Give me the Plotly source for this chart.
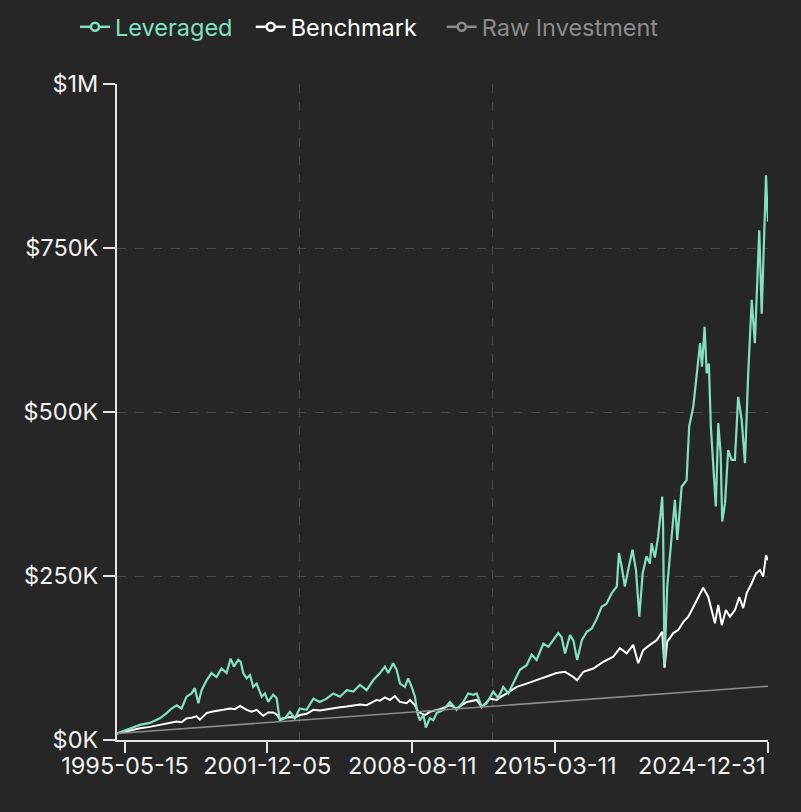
import plotly.graph_objects as go

# ---------------- data (values in $K) ----------------
lev_dates = [
    "1995-01-01", "1995-08-06", "1996-01-22", "1996-07-07", "1996-12-23", "1997-04-15", "1997-07-07",
    "1997-10-01", "1997-12-23", "1998-03-16", "1998-06-08", "1998-08-03", "1998-10-01", "1998-11-25",
    "1999-02-17", "1999-05-10", "1999-08-03", "1999-10-26", "2000-01-19", "2000-03-27", "2000-05-21",
    "2000-08-03", "2000-09-13", "2000-10-26", "2000-12-23", "2001-02-17", "2001-04-11", "2001-06-08",
    "2001-09-02", "2001-10-26", "2001-12-20", "2002-03-13", "2002-05-10", "2002-07-04", "2002-09-27",
    "2002-12-20", "2003-03-13", "2003-06-05", "2003-09-27", "2004-01-19", "2004-05-07", "2004-08-29",
    "2004-12-20", "2005-04-11", "2005-08-03", "2005-11-21", "2006-03-13", "2006-07-04", "2006-10-22",
    "2007-02-14", "2007-05-07", "2007-07-01", "2007-09-24", "2007-11-21", "2008-01-15", "2008-04-08",
    "2008-06-02", "2008-07-30", "2008-09-24", "2008-11-03", "2008-12-16", "2009-02-14", "2009-03-27",
    "2009-06-02", "2009-07-30", "2009-09-24", "2010-01-15", "2010-05-07", "2010-08-25", "2010-12-16",
    "2011-03-09", "2011-06-02", "2011-07-30", "2011-10-22", "2012-01-15", "2012-05-03", "2012-07-26",
    "2012-10-19", "2013-01-12", "2013-04-04", "2013-07-26", "2013-11-17", "2014-02-10", "2014-05-03",
    "2014-08-25", "2014-11-17", "2015-02-10", "2015-05-03", "2015-06-27", "2015-08-25", "2015-11-17",
    "2016-01-12", "2016-03-16", "2016-06-02", "2016-08-25", "2016-11-17", "2017-02-10", "2017-05-03",
    "2017-07-26", "2017-10-19", "2018-01-12", "2018-02-17", "2018-04-04", "2018-05-28", "2018-07-22",
    "2018-10-04", "2018-12-01", "2019-01-26", "2019-03-23", "2019-05-28", "2019-07-22", "2019-08-21",
    "2019-10-15", "2019-12-09", "2020-01-25", "2020-02-15", "2020-03-01", "2020-03-25", "2020-05-10",
    "2020-07-22", "2020-09-16", "2020-10-26", "2021-01-08", "2021-04-01", "2021-05-14", "2021-07-22",
    "2021-09-27", "2021-11-14", "2021-12-16", "2022-01-29", "2022-03-05", "2022-04-11", "2022-05-14",
    "2022-06-23", "2022-08-06", "2022-09-16", "2022-10-26", "2022-11-21", "2023-01-08", "2023-03-02",
    "2023-04-30", "2023-06-23", "2023-08-17", "2023-10-15", "2023-12-09", "2024-02-02", "2024-04-01",
    "2024-05-24", "2024-08-06", "2024-09-16", "2024-10-26", "2024-11-28", "2024-12-20", "2024-12-31",
]
lev_values = [
    10, 18, 23, 26, 33, 41, 48,
    53, 48, 66, 71, 79, 56, 76,
    91, 102, 96, 109, 102, 124, 112,
    122, 119, 102, 94, 99, 81, 86,
    66, 71, 58, 69, 64, 30, 33,
    43, 33, 48, 46, 63, 58, 63,
    71, 66, 76, 74, 84, 76, 91,
    102, 112, 102, 117, 107, 86, 81,
    94, 81, 66, 41, 30, 38, 19,
    33, 30, 41, 46, 58, 46, 58,
    71, 69, 71, 51, 56, 74, 64,
    81, 71, 86, 107, 114, 130, 122,
    147, 142, 152, 163, 157, 132, 160,
    152, 122, 152, 165, 170, 185, 203,
    208, 224, 234, 285, 264, 234, 259,
    290, 259, 188, 254, 280, 269, 300,
    278, 310, 350, 371, 330, 115, 234,
    305, 366, 305, 386, 396, 478, 508,
    559, 605, 569, 630, 559, 574, 478,
    417, 356, 483, 437, 333, 361, 442,
    427, 427, 523, 488, 422, 559, 671,
    605, 777, 650, 782, 861, 808, 790,
]

bench_dates = [
    "1995-01-01", "1995-02-20", "1995-08-06", "1996-01-22", "1996-07-07", "1996-12-23", "1997-05-07",
    "1997-10-01", "1997-12-23", "1998-03-16", "1998-06-08", "1998-09-02", "1998-10-26", "1999-02-17",
    "1999-05-10", "1999-08-03", "1999-11-25", "2000-03-16", "2000-06-08", "2000-09-02", "2000-12-23",
    "2001-03-16", "2001-06-08", "2001-09-27", "2001-12-20", "2002-03-13", "2002-05-10", "2002-07-04",
    "2002-09-27", "2002-12-20", "2003-03-13", "2003-06-05", "2003-09-27", "2004-01-19", "2004-05-07",
    "2004-08-29", "2004-12-20", "2005-04-11", "2005-08-03", "2005-11-21", "2006-03-13", "2006-07-04",
    "2006-10-22", "2006-12-20", "2007-02-14", "2007-05-07", "2007-07-30", "2007-10-22", "2008-01-15",
    "2008-05-07", "2008-07-01", "2008-09-24", "2008-11-17", "2009-01-15", "2009-03-10", "2009-06-02",
    "2009-11-17", "2010-05-07", "2010-08-25", "2011-02-14", "2011-07-30", "2011-10-22", "2012-03-09",
    "2012-07-01", "2012-08-25", "2012-12-16", "2013-06-02", "2013-11-17", "2014-05-03", "2014-10-19",
    "2015-04-04", "2015-08-25", "2016-01-12", "2016-03-16", "2016-06-27", "2016-12-13", "2017-05-28",
    "2017-11-14", "2018-03-05", "2018-06-27", "2018-10-15", "2019-01-08", "2019-04-01", "2019-07-22",
    "2019-11-14", "2020-02-15", "2020-03-25", "2020-05-10", "2020-08-21", "2020-11-14", "2021-02-06",
    "2021-04-30", "2021-07-22", "2021-10-15", "2021-12-09", "2022-01-05", "2022-04-01", "2022-05-28",
    "2022-07-22", "2022-09-16", "2022-11-14", "2023-01-22", "2023-04-01", "2023-06-23", "2023-09-05",
    "2023-11-10", "2024-01-08", "2024-04-01", "2024-06-12", "2024-08-17", "2024-10-11", "2024-11-28",
    "2024-12-31",
]
bench_values = [
    10, 11, 15, 18, 20, 23, 25,
    28, 27, 33, 34, 36, 31, 41,
    43, 44, 46, 48, 47, 52, 46,
    43, 46, 37, 42, 42, 39, 32,
    34, 35, 34, 38, 40, 46, 45,
    47, 49, 50, 51, 52, 54, 53,
    58, 61, 60, 65, 61, 67, 58,
    56, 61, 53, 43, 41, 38, 43,
    47, 53, 48, 58, 61, 50, 63,
    61, 65, 71, 81, 86, 91, 96,
    102, 104, 96, 91, 104, 109, 119,
    127, 140, 132, 145, 117, 137, 145,
    152, 165, 110, 150, 163, 168, 180,
    188, 203, 218, 229, 232, 218, 198,
    178, 206, 175, 198, 188, 198, 218,
    201, 224, 239, 254, 259, 249, 282,
    274,
]

raw_dates = [
    "1995-01-01", "1996-01-01", "1997-01-01", "1998-01-01", "1999-01-01", "2000-01-01",
    "2001-01-01", "2002-01-01", "2003-01-01", "2004-01-01", "2005-01-01", "2006-01-01",
    "2007-01-01", "2008-01-01", "2009-01-01", "2010-01-01", "2011-01-01", "2012-01-01",
    "2013-01-01", "2014-01-01", "2015-01-01", "2016-01-01", "2017-01-01", "2018-01-01",
    "2019-01-01", "2020-01-01", "2021-01-01", "2022-01-01", "2023-01-01", "2024-01-01",
    "2024-12-31",
]
raw_values = [
    10.0, 12.4, 14.8, 17.2, 19.6, 22.0,
    24.4, 26.8, 29.2, 31.6, 34.0, 36.4,
    38.8, 41.2, 43.6, 46.0, 48.4, 50.8,
    53.2, 55.6, 58.0, 60.4, 62.8, 65.2,
    67.6, 70.0, 72.4, 74.8, 77.2, 79.6,
    82.0,
]

series_names = ["Leveraged", "Benchmark", "Raw Investment"]
x_tick_dates = ["1995-05-15", "2001-12-05", "2008-08-11", "2015-03-11", "2024-12-31"]
x_grid_dates = ["2003-06-05", "2012-04-28", "2024-12-31"]
y_tick_vals = [0, 250, 500, 750, 1000]
y_tick_text = ["$0K", "$250K", "$500K", "$750K", "$1M"]

# ---------------- styling ----------------
BG = "#262626"
AXIS = "#e6e6e6"
GRID = "#4a4a4a"
TXT = "#f2f2f2"
C_LEV = "#84e0c2"
C_BEN = "#ffffff"
C_RAW = "#8c8c8c"
FONT = "Inter"
FS = 23.5

fig = go.Figure()

fig.add_trace(go.Scatter(x=raw_dates, y=raw_values, mode="lines", xaxis="x2",
                         line=dict(color=C_RAW, width=1.6), showlegend=False, hoverinfo="skip"))
fig.add_trace(go.Scatter(x=bench_dates, y=bench_values, mode="lines",
                         line=dict(color=C_BEN, width=2), showlegend=False, hoverinfo="skip"))
fig.add_trace(go.Scatter(x=lev_dates, y=lev_values, mode="lines",
                         line=dict(color=C_LEV, width=2.2), showlegend=False, hoverinfo="skip"))

# legend entries
pads = ["&nbsp;&nbsp;", "&nbsp;&nbsp;&nbsp;", ""]
for name, col, pad in zip(series_names, [C_LEV, C_BEN, C_RAW], pads):
    fig.add_trace(go.Scatter(
        x=[None], y=[None], mode="lines+markers",
        name=f"<span style='color:{col}'>{name}</span>{pad}",
        line=dict(color=col, width=2.5),
        marker=dict(symbol="circle", size=8, color=BG, line=dict(color=col, width=2.5)),
    ))

fig.update_layout(
    width=801, height=812,
    paper_bgcolor=BG, plot_bgcolor=BG,
    margin=dict(l=117, r=33, t=84, b=72),
    font=dict(family=FONT, size=FS, color=TXT),
    hovermode=False,
    legend=dict(orientation="h", xref="container", x=0.0936, xanchor="left",
                yref="container", y=0.9938, yanchor="top",
                font=dict(size=FS, family=FONT), bgcolor="rgba(0,0,0,0)",
                itemwidth=30),
    xaxis=dict(
        type="date", range=["1995-01-01", "2024-12-31"],
        tickvals=x_tick_dates, ticktext=x_tick_dates[:-1] + [""],
        ticks="outside", ticklen=11, tickwidth=2, tickcolor=AXIS,
        showline=True, linecolor=AXIS, linewidth=2,
        showgrid=False, zeroline=False, ticklabelstandoff=-7,
        tickfont=dict(size=FS, family=FONT, color=TXT),
    ),
    xaxis2=dict(
        type="date", overlaying="x", matches="x", anchor="y",
        tickvals=x_grid_dates, showticklabels=False, ticks="",
        showgrid=True, gridcolor=GRID, griddash="dash", gridwidth=1,
        showline=False, zeroline=False,
    ),
    yaxis=dict(
        range=[0, 1000], tickvals=y_tick_vals, ticktext=y_tick_text,
        ticks="outside", ticklen=12, tickwidth=2, tickcolor=AXIS,
        showline=True, linecolor=AXIS, linewidth=2,
        showgrid=True, gridcolor=GRID, griddash="dash", gridwidth=1,
        zeroline=False,
        tickfont=dict(size=FS, family=FONT, color=TXT),
    ),
)

fig.add_annotation(
    x=x_tick_dates[-1], xref="x", y=0, yref="paper",
    text=x_tick_dates[-1], showarrow=False, xanchor="right", yanchor="top",
    yshift=-9, font=dict(size=FS, family=FONT, color=TXT),
)

fig.write_html(
    "out.html",
    config={"displayModeBar": False, "staticPlot": True},
    post_script="document.body.style.margin='0';document.body.style.background='#262626';",
)
